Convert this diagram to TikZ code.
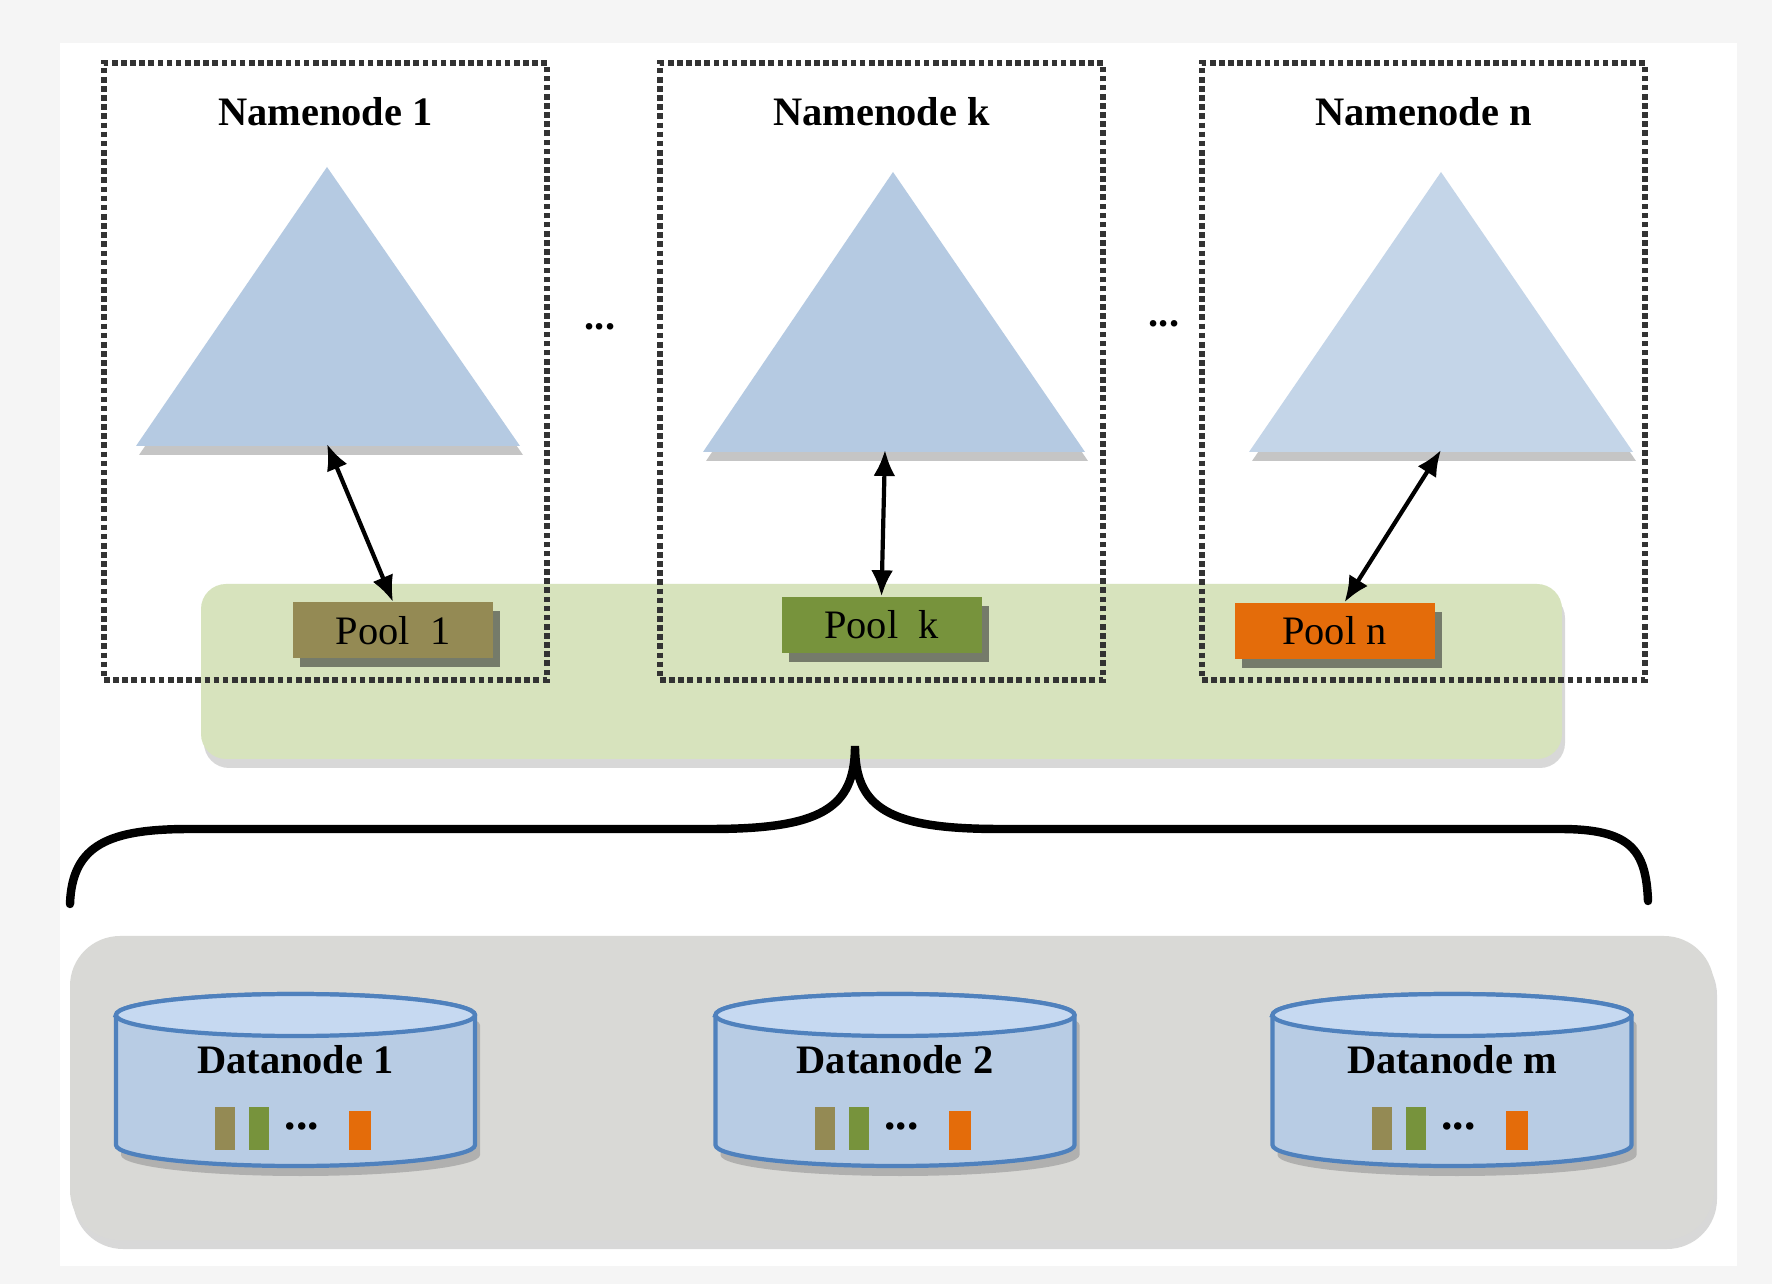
\documentclass[tikz,border=0pt]{standalone}
\usepackage{fontspec}
\setmainfont{Liberation Serif}
\usetikzlibrary{shapes,arrows.meta,calc,positioning,shadows}
\definecolor{bggray}{HTML}{F5F5F5}
\definecolor{treeblue}{HTML}{B5CAE2}
\definecolor{bandgreen}{HTML}{D7E3BD}
\definecolor{bandgray}{HTML}{D9D9D6}
\definecolor{poolA}{HTML}{948A54}
\definecolor{poolB}{HTML}{77933C}
\definecolor{poolC}{HTML}{E46C0A}
\definecolor{dbfill}{HTML}{B8CCE4}
\definecolor{dbtopfill}{HTML}{C6D9F1}
\definecolor{dbline}{HTML}{4F81BD}
\tikzset{
    semithick,
    nnbox/.style = {draw=black!80, densely dotted, line width=1.6pt, inner sep=0pt},
    title/.style = {font=\fontsize{11.5}{13}\selectfont\bfseries},
    tree/.style = {fill=treeblue, drop shadow={shadow xshift=0.3mm, shadow yshift=-0.9mm, opacity=0.45}},
    pool/.style = {minimum width=2cm, minimum height=0.56cm, inner sep=0pt, font=\fontsize{11.5}{13}\selectfont,
                   drop shadow={shadow xshift=0.7mm, shadow yshift=-0.9mm, opacity=0.55, fill=black!85}},
    band/.style = {rounded corners=0.25cm, inner sep=0pt, drop shadow={shadow xshift=0.3mm, shadow yshift=-0.9mm, opacity=0.3}},
    link/.style = {{Latex[length=2.6mm,width=2.2mm]}-{Latex[length=2.6mm,width=2.2mm]}, line width=1.2pt},
    brace/.style = {line width=2.4pt, line cap=round},
    dots/.style = {font=\fontsize{11.5}{13}\selectfont\bfseries, inner sep=0pt},
    dbbody/.style = {fill=dbfill, draw=dbline, line width=1.2pt,
                     drop shadow={shadow xshift=0.5mm, shadow yshift=-1mm, opacity=0.45}},
    dbtop/.style = {fill=dbtopfill, draw=dbline, line width=1.2pt}
}

\begin{document}
\begin{tikzpicture}
    \useasboundingbox (0,0) rectangle (17.72,12.84);
    \fill[bggray] (0,0) rectangle (17.72,12.84);
    \fill[white] (0.60,0.18) rectangle (17.37,12.41);

    % bands
    \node[band, fill=bandgray, minimum width=16.44cm, minimum height=3.04cm, rounded corners=0.5cm] (data) at (8.92,1.96) {};
    \node[band, fill=bandgreen, minimum width=13.61cm, minimum height=1.75cm] (pools) at (8.815,6.125) {};

    % namenodes
    \node[nnbox, minimum width=4.43cm, minimum height=6.17cm] (n1) at (3.255,9.125) {};
    \node[nnbox, minimum width=4.43cm, minimum height=6.17cm] (n2) at (8.815,9.125) {};
    \node[nnbox, minimum width=4.43cm, minimum height=6.17cm] (n3) at (14.235,9.125) {};
    \node[title, below=0.25cm of n1.north] (l1) {Namenode 1};
    \node[title, below=0.25cm of n2.north] (l2) {Namenode k};
    \node[title, below=0.25cm of n3.north] (l3) {Namenode n};

    \fill[tree] (3.27,11.17) -- (5.20,8.38) -- (1.36,8.38) -- cycle;
    \fill[tree] (8.93,11.12) -- (10.85,8.32) -- (7.03,8.32) -- cycle;
    \fill[tree, fill=treeblue!80!white] (14.41,11.12) -- (16.33,8.32) -- (12.49,8.32) -- cycle;
    \coordinate (b1) at (3.27,8.40);
    \coordinate (b2) at (8.85,8.34);
    \coordinate (b3) at (14.41,8.34);

    \node[dots] (g1) at (6.00,9.57) {...};
    \node[dots] (g2) at (11.64,9.60) {...};

    % pools
    \node[pool, fill=poolA] (p1) at (3.93,6.535) {Pool\ \ 1};
    \node[pool, fill=poolB] (p2) at (8.815,6.59) {Pool\ \ k};
    \node[pool, fill=poolC] (p3) at (13.345,6.53) {Pool n};

    \draw[link] (b1) -- (p1.north);
    \draw[link] (b2) -- (p2.north);
    \draw[link] (b3) -- ([xshift=0.1cm]p3.north);

    % brace
    \draw[brace] (0.70,3.80) .. controls (0.72,4.40) and (1.10,4.55) .. (1.90,4.55)
        -- (7.10,4.55) .. controls (8.20,4.55) and (8.55,4.75) .. (8.55,5.38)
        .. controls (8.55,4.75) and (8.90,4.55) .. (10.00,4.55)
        -- (15.60,4.55) .. controls (16.30,4.55) and (16.46,4.35) .. (16.48,3.83);

    % datanodes
    \foreach \x/\n/\t in {2.955/d1/1, 8.95/d2/2, 14.52/d3/m}{
        \filldraw[dbbody] (\x-1.795,2.69) -- (\x-1.795,1.39)
            arc[start angle=180, end angle=360, x radius=1.795cm, y radius=0.21cm]
            -- (\x+1.795,2.69)
            arc[start angle=0, end angle=180, x radius=1.795cm, y radius=0.21cm] -- cycle;
        \filldraw[dbtop] (\x,2.69) ellipse[x radius=1.795cm, y radius=0.21cm];
        \node[title] (\n) at (\x,2.24) {Datanode \t};
        \fill[poolA] (\x-0.805,1.34) rectangle (\x-0.605,1.77);
        \fill[poolB] (\x-0.465,1.34) rectangle (\x-0.265,1.77);
        \node[dots, font=\fontsize{13}{14}\selectfont\bfseries] at (\x+0.065,1.58) {...};
        \fill[poolC] (\x+0.535,1.34) rectangle (\x+0.755,1.73);
    }
\end{tikzpicture}
\end{document}
